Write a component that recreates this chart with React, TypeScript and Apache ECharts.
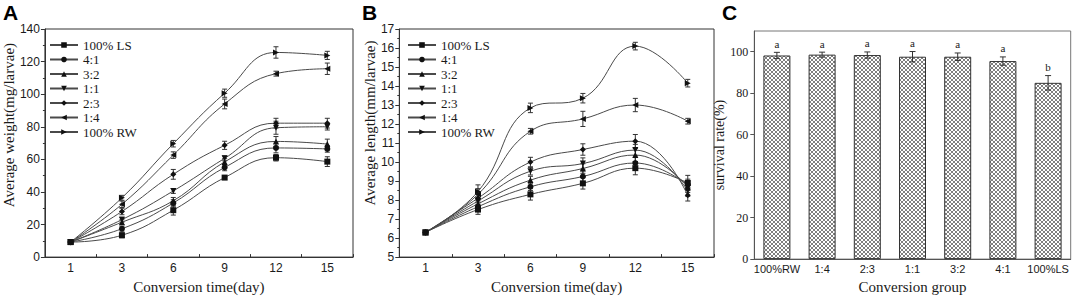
import React, { useEffect, useRef } from "react";
import * as echarts from "echarts";

// ---------- data ----------
const days = ["1", "3", "6", "9", "12", "15"];
const groupNames = ["100% LS", "4:1", "3:2", "1:1", "2:3", "1:4", "100% RW"];

// Panel A: average weight (mg/larvae)
const weightLS = [9.2, 13.4, 28.8, 48.8, 61, 58.6];
const weight41 = [9.2, 17.4, 33.2, 55, 67, 66.4];
const weight32 = [9.2, 21.4, 34.6, 58.4, 71, 69.4];
const weight11 = [9.2, 23, 40.6, 60.6, 79.4, 80];
const weight23 = [9.2, 28, 50.8, 68.6, 82.2, 82.2];
const weight14 = [9.2, 32.4, 62.6, 94, 112.6, 115.6];
const weightRW = [9.2, 36.4, 69.6, 100.6, 125.6, 123.8];

const weightErrLS = [0.8, 1.5, 3, 1, 2, 3];
const weightErr41 = [0.8, 1.5, 2, 2, 3, 2];
const weightErr32 = [0.8, 1.5, 2, 2, 3, 3];
const weightErr11 = [0.8, 1.5, 1.5, 1.5, 4, 2];
const weightErr23 = [0.8, 2, 3, 2.5, 3, 3];
const weightErr14 = [0.8, 2, 2, 3, 1.5, 3.5];
const weightErrRW = [0.8, 1.5, 2, 2.5, 3.5, 2.5];

// Panel B: average length (mm/larvae)
const lengthLS = [6.3, 7.5, 8.3, 8.88, 9.68, 8.9];
const length41 = [6.3, 7.65, 8.7, 9.24, 9.95, 8.8];
const length32 = [6.3, 7.8, 9.05, 9.66, 10.37, 8.7];
const length11 = [6.3, 7.95, 9.52, 9.92, 10.63, 8.5];
const length23 = [6.3, 8.1, 10.0, 10.66, 11.1, 8.25];
const length14 = [6.3, 8.3, 11.62, 12.27, 13.0, 12.15];
const lengthRW = [6.3, 8.45, 12.85, 13.36, 16.1, 14.15];

const lengthErrLS = [0.05, 0.25, 0.3, 0.3, 0.35, 0.4];
const lengthErr41 = [0.05, 0.2, 0.2, 0.3, 0.3, 0.3];
const lengthErr32 = [0.05, 0.2, 0.2, 0.25, 0.35, 0.3];
const lengthErr11 = [0.05, 0.2, 0.2, 0.3, 0.3, 0.3];
const lengthErr23 = [0.05, 0.2, 0.25, 0.3, 0.35, 0.3];
const lengthErr14 = [0.05, 0.3, 0.15, 0.4, 0.35, 0.15];
const lengthErrRW = [0.05, 0.35, 0.25, 0.25, 0.2, 0.2];

// Panel C: survival rate (%)
const conversionGroups = ["100%RW", "1:4", "2:3", "1:1", "3:2", "4:1", "100%LS"];
const survivalRate = [98.2, 98.6, 98.4, 97.6, 97.6, 95.5, 85];
const survivalErr = [1.5, 1.2, 1.5, 2.5, 1.8, 2, 3.5];
const survivalLetters = ["a", "a", "a", "a", "a", "a", "b"];

const weightTicks = { min: 0, max: 140, interval: 20 };
const lengthTicks = { min: 5, max: 17, interval: 1 };
const survivalTicks = { min: 0, max: 110, interval: 20 };

// ---------- styles ----------
const SERIF = "'Liberation Serif', 'Times New Roman', serif";
const SANS = "'Liberation Sans', Arial, sans-serif";
const INK = "#1a1a1a";
const LINE = "#4a4a4a";

const symbols = [
  "rect",
  "circle",
  "triangle",
  "path://M0,0 L10,0 L5,10 Z",
  "diamond",
  "path://M10,0 L10,10 L0,5 Z",
  "path://M0,0 L10,5 L0,10 Z",
];

const weightSeries = [weightLS, weight41, weight32, weight11, weight23, weight14, weightRW];
const weightErrs = [weightErrLS, weightErr41, weightErr32, weightErr11, weightErr23, weightErr14, weightErrRW];
const lengthSeries = [lengthLS, length41, length32, length11, length23, length14, lengthRW];
const lengthErrs = [lengthErrLS, lengthErr41, lengthErr32, lengthErr11, lengthErr23, lengthErr14, lengthErrRW];

function errorRender(capHalf: number, color: string) {
  return (params: any, api: any) => {
    const x = api.value(0);
    const y = api.value(1);
    const e = api.value(2);
    const top = api.coord([x, y + e]);
    const bot = api.coord([x, y - e]);
    const style = { stroke: color, lineWidth: 1 };
    return {
      type: "group",
      children: [
        { type: "line", shape: { x1: top[0], y1: top[1], x2: bot[0], y2: bot[1] }, style },
        { type: "line", shape: { x1: top[0] - capHalf, y1: top[1], x2: top[0] + capHalf, y2: top[1] }, style },
        { type: "line", shape: { x1: bot[0] - capHalf, y1: bot[1], x2: bot[0] + capHalf, y2: bot[1] }, style },
      ],
    };
  };
}

function makeHatch() {
  const size = 4;
  const cv = document.createElement("canvas");
  cv.width = size;
  cv.height = size;
  const ctx = cv.getContext("2d")!;
  ctx.fillStyle = "#ffffff";
  ctx.fillRect(0, 0, size, size);
  ctx.strokeStyle = "#707070";
  ctx.lineWidth = 0.9;
  ctx.beginPath();
  ctx.moveTo(0, 0);
  ctx.lineTo(size, size);
  ctx.moveTo(size, 0);
  ctx.lineTo(0, size);
  ctx.stroke();
  return { image: cv, repeat: "repeat", imageWidth: size, imageHeight: size };
}

function lineYAxis(gridIndex: number, ticks: any, name: string, shift: number) {
  return {
    type: "value",
    gridIndex,
    ...ticks,
    name,
    nameLocation: "middle",
    nameGap: 22,
    nameTextStyle: { fontFamily: SERIF, fontSize: 15, color: INK, padding: [0, 0, 0, shift] },
    axisLine: { show: true, lineStyle: { color: "#333", width: 1 } },
    axisTick: { show: true, inside: false, length: 4, lineStyle: { color: "#333" } },
    minorTick: { show: true, splitNumber: 2, length: 2, lineStyle: { color: "#333" } },
    splitLine: { show: false },
    axisLabel: { fontFamily: SANS, fontSize: 12, color: INK, margin: 5 },
  };
}

function lineXAxis(gridIndex: number) {
  return {
    type: "category",
    gridIndex,
    data: days,
    boundaryGap: true,
    name: "Conversion time(day)",
    nameLocation: "middle",
    nameGap: 15,
    nameTextStyle: { fontFamily: SERIF, fontSize: 15, color: INK },
    axisLine: { show: true, lineStyle: { color: "#333", width: 1 } },
    axisTick: { show: true, inside: true, length: 3, lineStyle: { color: "#333" } },
    splitLine: { show: false },
    axisLabel: { fontFamily: SANS, fontSize: 12, color: INK, margin: 5 },
  };
}

function legendAt(left: number) {
  return {
    data: groupNames,
    orient: "vertical",
    left,
    top: 33.5,
    itemWidth: 28,
    itemHeight: 7,
    itemGap: 1.5,
    selectedMode: false,
    textStyle: { fontFamily: SERIF, fontSize: 13, color: INK, lineHeight: 13 },
  };
}

export default function App() {
  const ref = useRef<HTMLDivElement>(null);

  useEffect(() => {
    if (!ref.current) return;
    const chart = echarts.init(ref.current, null, { renderer: "svg" });
    const hatch = makeHatch();

    const series: any[] = [];
    const addPanel = (xIdx: number, yIdx: number, vals: number[][], errs: number[][]) => {
      vals.forEach((v, g) => {
        series.push({
          type: "line",
          name: groupNames[g],
          xAxisIndex: xIdx,
          yAxisIndex: yIdx,
          data: v,
          smooth: 0.45,
          symbol: symbols[g],
          symbolSize: 6,
          showAllSymbol: true,
          lineStyle: { color: LINE, width: 1 },
          itemStyle: { color: "#111", borderWidth: 0 },
          z: 3,
        });
      });
      const errData: number[][] = [];
      vals.forEach((v, g) => v.forEach((val, i) => errData.push([i, val, errs[g][i]])));
      series.push({
        type: "custom",
        name: "err" + xIdx,
        xAxisIndex: xIdx,
        yAxisIndex: yIdx,
        data: errData,
        renderItem: errorRender(2.5, "#333"),
        z: 2,
        silent: true,
      });
    };
    addPanel(0, 0, weightSeries, weightErrs);
    addPanel(1, 1, lengthSeries, lengthErrs);

    series.push({
      type: "bar",
      name: "survival",
      xAxisIndex: 2,
      yAxisIndex: 2,
      data: survivalRate,
      barWidth: 27,
      itemStyle: { color: hatch, borderColor: "#333", borderWidth: 1 },
      z: 2,
    });
    series.push({
      type: "custom",
      name: "survivalErr",
      xAxisIndex: 2,
      yAxisIndex: 2,
      data: survivalRate.map((v, i) => [i, v, survivalErr[i]]),
      renderItem: (params: any, api: any) => {
        const base = errorRender(3, "#333")(params, api) as any;
        const i = params.dataIndex;
        const top = api.coord([api.value(0), api.value(1) + api.value(2)]);
        base.children.push({
          type: "text",
          x: top[0],
          y: top[1] - 3,
          style: {
            text: survivalLetters[i],
            font: `11px ${SERIF}`,
            fill: INK,
            textAlign: "center",
            textVerticalAlign: "bottom",
          },
        });
        return base;
      },
      z: 4,
      silent: true,
    });

    const option: any = {
      animation: false,
      backgroundColor: "#ffffff",
      grid: [
        { left: 43, top: 29, width: 310, height: 233.3, show: true, borderColor: "#333", borderWidth: 1, containLabel: false },
        { left: 399.3, top: 29, width: 314.7, height: 236, show: true, borderColor: "#333", borderWidth: 1, containLabel: false },
        { left: 754.3, top: 31, width: 316.4, height: 234, show: true, borderColor: "#777", borderWidth: 1, containLabel: false },
      ],
      legend: [legendAt(44), legendAt(402)],
      xAxis: [
        lineXAxis(0),
        lineXAxis(1),
        {
          type: "category",
          gridIndex: 2,
          data: conversionGroups,
          boundaryGap: true,
          name: "Conversion group",
          nameLocation: "middle",
          nameGap: 15,
          nameTextStyle: { fontFamily: SERIF, fontSize: 15, color: INK },
          axisLine: { show: true, lineStyle: { color: "#555", width: 1 } },
          axisTick: { show: false },
          splitLine: { show: false },
          axisLabel: { fontFamily: SANS, fontSize: 11, color: INK, margin: 4, interval: 0 },
        },
      ],
      yAxis: [
        lineYAxis(0, weightTicks, "Average weight(mg/larvae)", 36),
        lineYAxis(1, lengthTicks, "Average length(mm/larvae)", 40),
        {
          type: "value",
          gridIndex: 2,
          ...survivalTicks,
          name: "survival rate(%)",
          nameLocation: "middle",
          nameGap: 22,
          nameTextStyle: { fontFamily: SERIF, fontSize: 14, color: INK },
          axisLine: { show: true, lineStyle: { color: "#555", width: 1 } },
          axisTick: { show: true, inside: false, length: 4, lineStyle: { color: "#555" } },
          splitLine: { show: false },
          axisLabel: { fontFamily: SERIF, fontSize: 12, color: INK, margin: 6, showMaxLabel: false },
        },
      ],
      graphic: [
        { type: "text", left: 3, top: 2, style: { text: "A", font: `bold 21px ${SANS}`, fill: "#000" } },
        { type: "text", left: 362, top: 2, style: { text: "B", font: `bold 21px ${SANS}`, fill: "#000" } },
        { type: "text", left: 722, top: 2, style: { text: "C", font: `bold 21px ${SANS}`, fill: "#000" } },
      ],
      series,
    };
    chart.setOption(option);
    return () => chart.dispose();
  }, []);

  return (
    <div
      ref={ref}
      style={{ position: "absolute", left: 0, top: 0, width: 1072, height: 299, background: "#fff" }}
    />
  );
}
